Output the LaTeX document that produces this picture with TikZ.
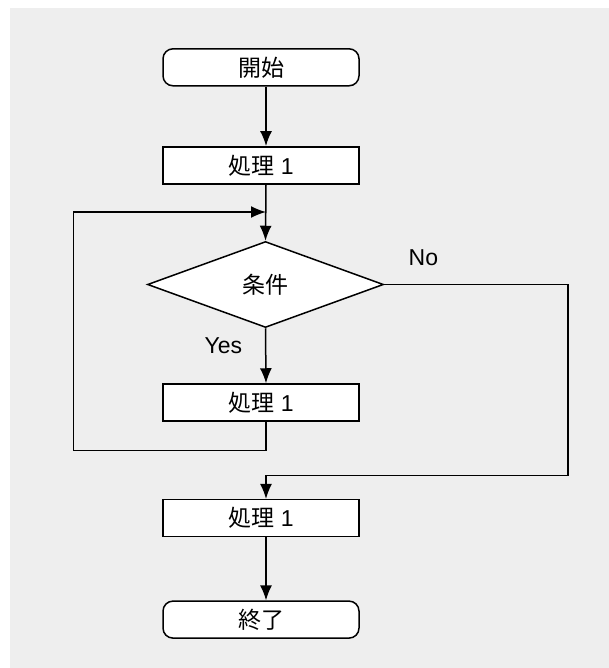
\documentclass[tikz,border=0pt]{standalone}
\usepackage{fontspec}
\setmainfont{Liberation Sans}
\newfontfamily\cjk{Noto Sans CJK JP}
\usetikzlibrary{shapes.geometric,arrows.meta}
\definecolor{bggray}{HTML}{EEEEEE}
\begin{document}
\begin{tikzpicture}[x=1pt,y=-1pt,>={Latex[length=15pt,width=12pt]},line width=1.5pt,
  font=\fontsize{23}{27}\selectfont,
  box/.style={draw,fill=white,minimum width=196pt,minimum height=37pt,inner sep=0pt},
  term/.style={box,rounded corners=10pt},
  test/.style={draw,fill=white,diamond,minimum width=236pt,minimum height=86pt,inner sep=0pt}]
  \useasboundingbox (0,0) rectangle (609,668);
  \fill[bggray] (10,8) rectangle (609,668);
  % column of the flow
  \coordinate (ax) at (266,0);
  \node[term] (start) at (261,67.3) {\cjk 開始};
  \node[box] (proc1) at (261,165.3) {{\cjk 処理} 1};
  \node[test] (cond) at (265.5,284.5) {\cjk 条件};
  \node[box] (proc2) at (261,402.5) {{\cjk 処理} 1};
  \node[box] (proc3) at (261,518.2) {{\cjk 処理} 1};
  \node[term] (stop) at (261,619.6) {\cjk 終了};
  \node (yes) at (223.3,346) {Yes};
  \node (no) at (423.4,257.6) {No};
  % corners of the two detours
  \coordinate (lb) at (73.5,450.3);
  \coordinate (lt) at (73.5,212);
  \coordinate (nb) at (568,475.7);
  \draw[->] (start.south -| ax) -- (proc1.north -| ax);
  \draw[->] (proc1.south -| ax) -- (cond.north);
  \draw[->] (cond.south) -- (proc2.north -| ax);
  \draw[->] (proc2.south -| ax) |- (lb) |- (lt -| ax);
  \draw[->] (cond.east) -| (nb) -- (nb -| ax) -- (proc3.north -| ax);
  \draw[->] (proc3.south -| ax) -- (stop.north -| ax);
\end{tikzpicture}
\end{document}
